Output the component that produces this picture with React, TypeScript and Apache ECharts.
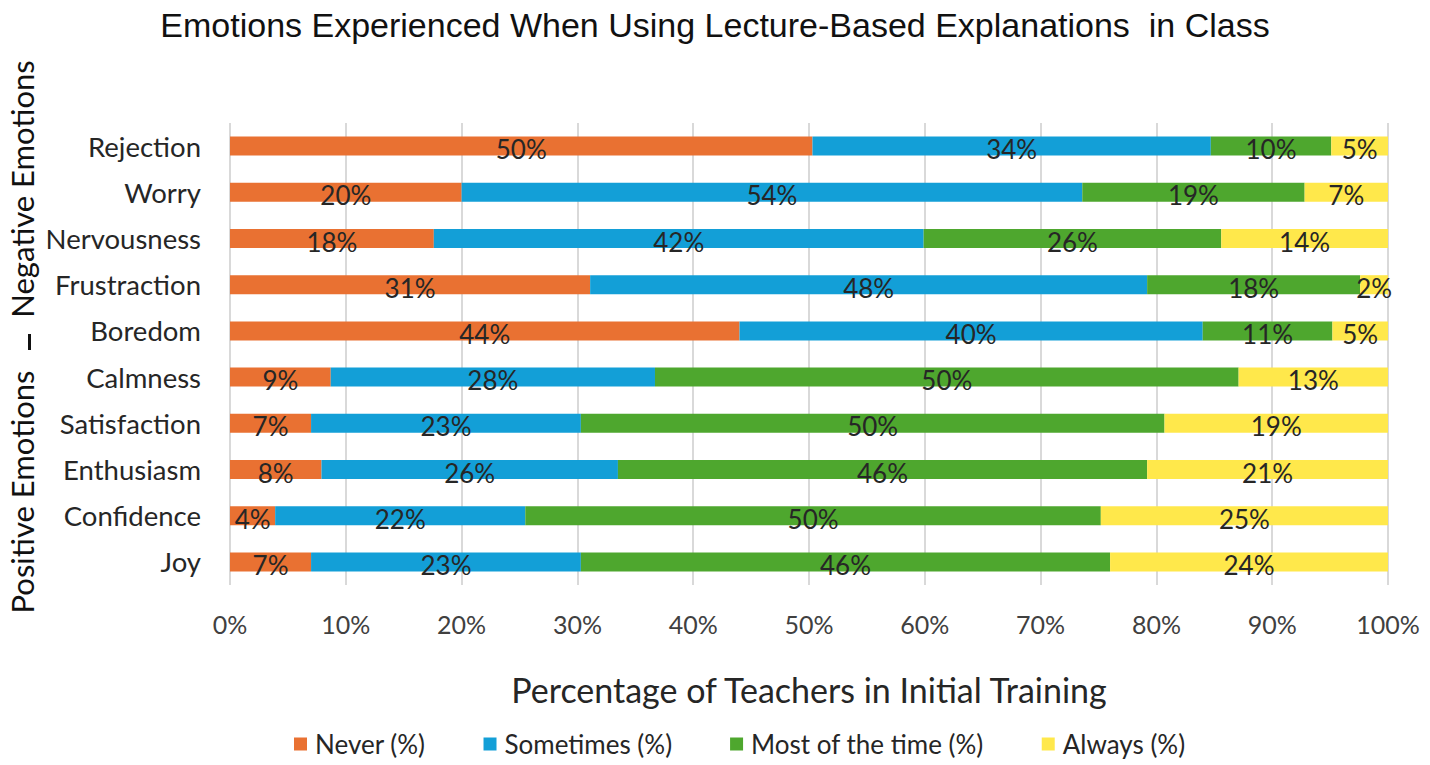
import React, { useEffect, useRef } from "react";
import * as echarts from "echarts";

const categories = [
  "Rejection",
  "Worry",
  "Nervousness",
  "Frustraction",
  "Boredom",
  "Calmness",
  "Satisfaction",
  "Enthusiasm",
  "Confidence",
  "Joy",
];
const never = [50.3, 20.0, 17.6, 31.1, 44.0, 8.7, 7.0, 7.9, 3.9, 7.0];
const sometimes = [34.4, 53.6, 42.3, 48.1, 40.0, 28.0, 23.3, 25.6, 21.6, 23.3];
const mostOfTheTime = [10.4, 19.2, 25.7, 18.4, 11.2, 50.4, 50.4, 45.7, 49.7, 45.7];
const always = [4.9, 7.2, 14.4, 2.4, 4.8, 12.9, 19.3, 20.8, 24.8, 24.0];
const seriesNames = ["Never (%)", "Sometimes (%)", "Most of the time (%)", "Always (%)"];
const xTicks = [0, 10, 20, 30, 40, 50, 60, 70, 80, 90, 100];

const colors = ["#E97132", "#139FD7", "#4EA72E", "#FFE84B"];
const FONT = "Lato";

export default function App() {
  const ref = useRef<HTMLDivElement>(null);
  useEffect(() => {
    if (!ref.current) return;
    const chart = echarts.init(ref.current, undefined, { renderer: "svg" });
    const values = [never, sometimes, mostOfTheTime, always];
    const option: any = {
      animation: false,
      backgroundColor: "#ffffff",
      title: {
        text: "Emotions Experienced When Using Lecture-Based Explanations  in Class",
        left: "center",
        top: 3,
        textStyle: {
          fontFamily: "Liberation Sans",
          fontSize: 34,
          fontWeight: "normal",
          color: "#111111",
        },
      },
      legend: {
        bottom: 3,
        left: 289,
        itemWidth: 13,
        itemHeight: 13,
        itemGap: 58,
        icon: "rect",
        data: seriesNames,
        textStyle: { fontFamily: FONT, fontSize: 26, color: "#262626", padding: [0, 0, 0, 3] },
      },
      grid: { left: 230, right: 42, top: 123, bottom: 180, containLabel: false },
      xAxis: {
        type: "value",
        min: 0,
        max: 100,
        interval: 10,
        name: "Percentage of Teachers in Initial Training",
        nameLocation: "middle",
        nameGap: 87,
        nameTextStyle: { fontFamily: FONT, fontSize: 34, color: "#262626" },
        axisLine: { show: false },
        axisTick: { show: false },
        axisLabel: {
          margin: 26,
          fontFamily: FONT,
          fontSize: 25,
          color: "#404040",
          formatter: (v: number) => (xTicks.includes(v) ? v + "%" : ""),
        },
        splitLine: { show: true, lineStyle: { color: "#D9D9D9", width: 2 } },
      },
      yAxis: {
        type: "category",
        data: categories,
        inverse: true,
        axisLine: { show: false },
        axisTick: { show: false },
        axisLabel: { margin: 29, fontFamily: FONT, fontSize: 27.5, color: "#262626" },
        splitLine: { show: false },
      },
      series: seriesNames.map((name, i) => ({
        name,
        type: "bar",
        stack: "total",
        barWidth: 19,
        data: values[i],
        itemStyle: { color: colors[i] },
        label: {
          show: true,
          position: "inside",
          offset: [0, 3],
          fontFamily: FONT,
          fontSize: 26,
          color: "#262626",
          formatter: (p: any) => Math.round(p.value) + "%",
        },
      })),
      graphic: [
        {
          type: "text",
          x: 22,
          y: 189,
          rotation: Math.PI / 2,
          style: {
            text: "Negative Emotions",
            fontFamily: FONT,
            fontSize: 31,
            fill: "#111111",
            align: "center",
            verticalAlign: "middle",
          },
        },
        {
          type: "text",
          x: 22,
          y: 492,
          rotation: Math.PI / 2,
          style: {
            text: "Positive Emotions",
            fontFamily: FONT,
            fontSize: 31,
            fill: "#111111",
            align: "center",
            verticalAlign: "middle",
          },
        },
        {
          type: "rect",
          shape: { x: 28, y: 334, width: 3, height: 16 },
          style: { fill: "#111111" },
        },
      ],
    };
    chart.setOption(option);
    return () => chart.dispose();
  }, []);
  return (
    <div
      ref={ref}
      style={{ position: "fixed", left: 0, top: 0, width: 1430, height: 765 }}
    />
  );
}
